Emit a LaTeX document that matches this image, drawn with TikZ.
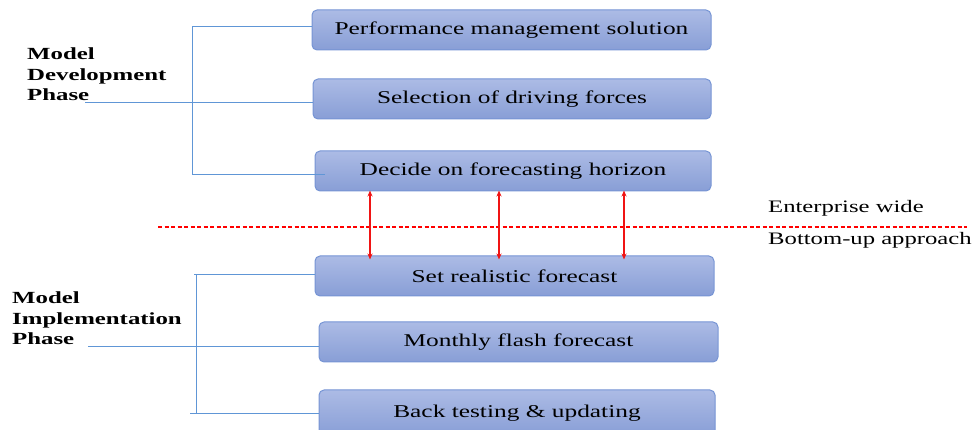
\documentclass[tikz,border=0pt]{standalone}
\usepackage{fontspec}
\setmainfont{Liberation Serif}[FakeStretch=1.41]
\newfontfamily\phasefont{Liberation Serif}[FakeStretch=1.46]
\usetikzlibrary{arrows.meta}
\definecolor{boxtop}{RGB}{172,187,229}
\definecolor{boxbot}{RGB}{136,158,214}
\definecolor{boxedge}{RGB}{118,148,212}
\definecolor{brkblue}{RGB}{96,150,214}
\definecolor{arrred}{RGB}{240,20,20}
\tikzset{
  stepbox/.style={rectangle, rounded corners=5pt, draw=boxedge, line width=1pt,
    top color=boxtop, bottom color=boxbot, minimum height=40pt,
    font=\fontsize{18}{20}\selectfont, text=black, inner sep=0pt},
  phaselabel/.style={anchor=north west, align=left, inner sep=0pt,
    font=\phasefont\bfseries\fontsize{17}{20.5}\selectfont},
  sidelabel/.style={anchor=base west, inner sep=0pt, font=\fontsize{17.5}{20}\selectfont},
  brk/.style={draw=brkblue, line width=1pt},
  redarr/.style={draw=arrred, line width=1.4pt, {Stealth[length=6pt,width=5pt]}-{Stealth[length=6pt,width=5pt]}},
  reddash/.style={draw=red, line width=1.2pt, dash pattern=on 4pt off 2.5pt}
}
\begin{document}
\begin{tikzpicture}[x=1pt, y=-1pt]
\useasboundingbox (0,0) rectangle (975,430);
\clip (0,0) rectangle (975,430);

% development phase boxes
\node[stepbox, minimum width=399pt] (b1) at (511.5,30) {Performance management solution};
\node[stepbox, minimum width=398pt] (b2) at (512,99) {Selection of driving forces};
\node[stepbox, minimum width=396pt] (b3) at (513,171) {Decide on forecasting horizon};
% implementation phase boxes
\node[stepbox, minimum width=399pt] (b4) at (514.5,276) {Set realistic forecast};
\node[stepbox, minimum width=399pt] (b5) at (518.5,342) {Monthly flash forecast};
\node[stepbox, minimum width=396pt, minimum height=46pt] (b6) at (517,413) {\raisebox{3pt}{Back testing \& updating}};

% phase labels
\node[phaselabel] (devlab) at (27,48) {Model\\Development\\Phase};
\node[phaselabel] (implab) at (12,292) {Model\\Implementation\\Phase};

% bracket joining the development steps
\coordinate (dtop) at (192,27);
\coordinate (dbot) at (192,175);
\coordinate (dmid) at (85,103);
\draw[brk] (dtop) -- (dbot);
\draw[brk] (dtop) -- (dtop -| b1.west);
\draw[brk] (dmid) -- (dmid -| b2.west);
\draw[brk] (dbot) -- ([xshift=10pt]dbot -| b3.west);

% bracket joining the implementation steps
\coordinate (itop) at (196,275);
\coordinate (ibot) at (196,413);
\coordinate (imid) at (88,347);
\draw[brk] (itop) -- (ibot);
\draw[brk] ([xshift=-2pt]itop) -- (itop -| b4.west);
\draw[brk] (imid) -- (imid -| b5.west);
\draw[brk] ([xshift=-6pt]ibot) -- (ibot -| b6.west);

% divide between the two approaches
\coordinate (dl) at (158,227);
\coordinate (dr) at (967,227);
\draw[reddash] (dl) -- (dr);
\node[sidelabel] (ew) at (768,213) {Enterprise wide};
\node[sidelabel] (bu) at (768,245) {Bottom-up approach};

% links across the divide
\foreach \dx in {-143,-14,111}{
  \draw[redarr] ([xshift=\dx pt, yshift=1pt]b3.south) -- ([xshift=\dx pt, yshift=-4pt]b3.south |- b4.north);
}
\end{tikzpicture}
\end{document}
